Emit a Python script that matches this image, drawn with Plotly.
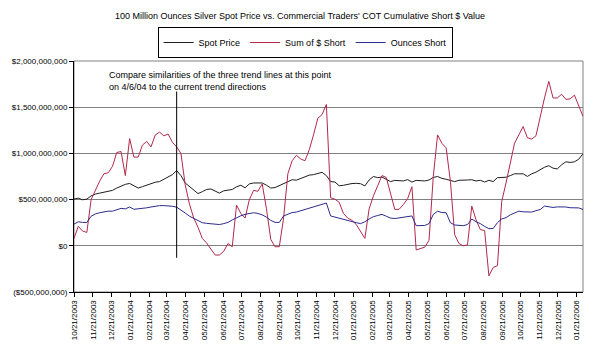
import pandas as pd
import plotly.graph_objects as go

# Weekly COT report dates (Tuesdays), 10/21/2003 .. 01/31/2006
dates = pd.date_range("2003-10-21", periods=120, freq="7D")

# Values in millions of dollars
spot_price = [
    505, 516, 498, 505, 540, 560, 570, 580, 590, 600,
    625, 645, 665, 675, 650, 625, 640, 656, 680, 688,
    695, 720, 740, 770, 814, 760, 680, 640, 600, 565,
    586, 610, 615, 595, 570, 595, 600, 610, 639, 655,
    628, 670, 680, 682, 680, 656, 625, 630, 650, 675,
    690, 715, 710, 730, 750, 765, 770, 780, 795, 760,
    695, 690, 650, 655, 665, 674, 676, 672, 648, 712,
    750, 738, 744, 720, 695, 708, 705, 702, 716, 690,
    708, 705, 702, 712, 740, 750, 730, 720, 710, 695,
    709, 708, 712, 715, 702, 709, 690, 709, 695, 737,
    737, 742, 760, 779, 779, 779, 751, 779, 797, 825,
    850, 867, 840, 832, 877, 909, 902, 909, 937, 997,
]

sum_short = [
    80, 210, 160, 145, 500, 600, 700, 780, 790, 860,
    1010, 1020, 760, 1160, 960, 960, 1090, 1130, 1070, 1200,
    1230, 1190, 1210, 1120, 1070, 1000, 660, 450, 300, 200,
    80, 30, -40, -100, -100, -60, 25, -10, 440, 350,
    300, 500, 600, 590, 670, 400, 70, -10, -10, 300,
    780, 920, 980, 940, 920, 1040, 1200, 1380, 1420, 1530,
    520, 505, 470, 350, 300, 275, 230, 150, 80, 400,
    540, 650, 760, 740, 570, 393, 395, 446, 510, 640,
    -45, -28, -15, 60, 750, 1200, 1110, 1060, 700, 120,
    25, 0, 10, 430, 280, 175, 165, -326, -235, -215,
    480, 680, 900, 1110, 1200, 1290, 1170, 1155, 1190, 1410,
    1600, 1780, 1600, 1600, 1640, 1585, 1590, 1630, 1510, 1400,
]

ounces_short = [
    235, 260, 253, 253, 320, 345, 358, 368, 375, 375,
    388, 405, 400, 420, 395, 398, 405, 411, 420, 430,
    435, 435, 433, 428, 418, 390, 355, 320, 295, 270,
    250, 243, 238, 235, 230, 240, 253, 280, 305, 325,
    340, 350, 358, 350, 335, 310, 275, 253, 253, 323,
    345, 360, 365, 380, 393, 405, 420, 435, 450, 463,
    323, 310, 300, 285, 275, 265, 250, 240, 260, 290,
    315, 328, 340, 320, 300, 295, 300, 305, 318, 323,
    218, 218, 220, 240, 340, 375, 360, 358, 250, 225,
    218, 218, 230, 290, 260, 240, 210, 185, 188, 250,
    290, 305, 335, 355, 375, 368, 365, 365, 380, 393,
    430, 420, 415, 421, 421, 420, 412, 411, 410, 393,
]

series_names = ["Spot Price", "Sum of $ Short", "Ounces Short"]
series_colors = ["#1e1e1e", "#b3284c", "#2b2b8c"]

tick_dates = [
    "2003-10-21", "2003-11-21", "2003-12-21", "2004-01-21", "2004-02-21",
    "2004-03-21", "2004-04-21", "2004-05-21", "2004-06-21", "2004-07-21",
    "2004-08-21", "2004-09-21", "2004-10-21", "2004-11-21", "2004-12-21",
    "2005-01-21", "2005-02-21", "2005-03-21", "2005-04-21", "2005-05-21",
    "2005-06-21", "2005-07-21", "2005-08-21", "2005-09-21", "2005-10-21",
    "2005-11-21", "2005-12-21", "2006-01-21",
]
tick_text = [pd.Timestamp(d).strftime("%m/%d/%Y") for d in tick_dates]

y_tickvals = [-500e6, 0, 500e6, 1000e6, 1500e6, 2000e6]
y_ticktext = ["($500,000,000)", "$0", "$500,000,000", "$1,000,000,000",
              "$1,500,000,000", "$2,000,000,000"]

marker_date = "2004-04-06"
marker_y = [-130e6, 1670e6]

FONT = "Arial, Liberation Sans, sans-serif"

fig = go.Figure()
for name, vals, col in zip(series_names, [spot_price, sum_short, ounces_short], series_colors):
    fig.add_trace(go.Scatter(
        x=dates, y=[v * 1e6 for v in vals], mode="lines", name=name,
        line=dict(color=col, width=1),
    ))

fig.add_shape(type="rect", xref="paper", yref="paper", x0=0, x1=1, y0=0, y1=1,
              line=dict(color="#808080", width=1), layer="below")
fig.add_shape(type="line", xref="x", yref="y", x0=marker_date, x1=marker_date,
              y0=marker_y[0], y1=marker_y[1], line=dict(color="black", width=1))

fig.add_annotation(
    xref="paper", yref="paper", x=0.064, y=0.968, xanchor="left", yanchor="top",
    align="left", showarrow=False,
    text="Compare similarities of the three trend lines at this point<br>on 4/6/04 to the current trend directions",
    font=dict(family=FONT, size=9, color="black"),
)

fig.update_layout(
    width=600, height=352,
    margin=dict(l=72, r=17, t=61, b=54),
    paper_bgcolor="white", plot_bgcolor="white",
    font=dict(family=FONT, size=8, color="black"),
    title=dict(
        text="100 Million Ounces Silver Spot Price vs. Commercial Traders' COT Cumulative Short $ Value",
        x=0.5, xanchor="center", y=1 - 16 / 352, yanchor="middle",
        font=dict(family=FONT, size=9, color="black"),
    ),
    legend=dict(
        orientation="h", x=0.454, y=1.08, xanchor="center", yanchor="middle",
        bordercolor="black", borderwidth=1, bgcolor="white",
        font=dict(family=FONT, size=9, color="black"),
        itemwidth=30,
    ),
    showlegend=True,
)

fig.update_xaxes(
    type="date", range=["2003-10-21", "2006-01-31"],
    tickvals=tick_dates, ticktext=tick_text, tickangle=-90,
    ticks="outside", ticklen=4, tickcolor="black",
    showline=True, linecolor="black", linewidth=1,
    showgrid=False, zeroline=False,
    tickfont=dict(family=FONT, size=8, color="black"),
)
fig.update_yaxes(
    range=[-500e6, 2000e6], tickvals=y_tickvals, ticktext=y_ticktext,
    ticks="outside", ticklen=4, tickcolor="black",
    showline=True, linecolor="black", linewidth=1,
    showgrid=True, gridcolor="#808080", gridwidth=1, zeroline=False,
    tickfont=dict(family=FONT, size=8, color="black"),
)

fig.write_html("out.html")
